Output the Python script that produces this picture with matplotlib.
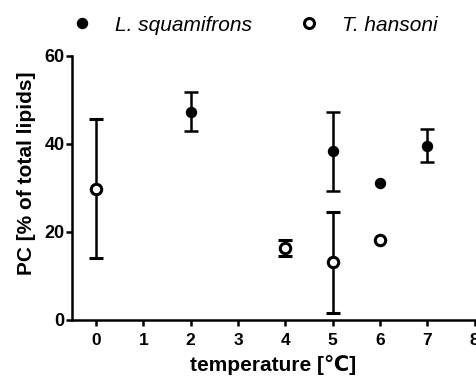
import matplotlib
matplotlib.use("Agg")
import matplotlib.pyplot as plt
from matplotlib.lines import Line2D
import numpy as np

plt.rcParams['font.family'] = ['Liberation Sans', 'DejaVu Sans']

# L. squamifrons (filled)
ls_x = [2, 5, 6, 7]
ls_y = [47.3, 38.3, 31.1, 39.6]
ls_lo = [43.0, 29.2, np.nan, 36.0]
ls_hi = [51.7, 47.3, np.nan, 43.3]

# T. hansoni (open)
th_x = [0, 4, 5, 6]
th_y = [29.8, 16.3, 13.1, 18.2]
th_lo = [14.0, 14.6, 1.6, np.nan]
th_hi = [45.7, 18.1, 24.6, np.nan]

xticks = [0, 1, 2, 3, 4, 5, 6, 7, 8]
yticks = [0, 20, 40, 60]

fig = plt.figure(figsize=(4.76, 3.8), dpi=100)
ax = fig.add_axes([0.152, 0.158, 0.845, 0.695])

def yerr(y, lo, hi):
    y = np.array(y, dtype=float)
    return [y - np.array(lo, dtype=float), np.array(hi, dtype=float) - y]

ax.errorbar(ls_x, ls_y, yerr=yerr(ls_y, ls_lo, ls_hi), fmt='o', color='black',
            ms=7.2, mfc='black', mec='black', elinewidth=1.8, capsize=5, capthick=1.8,
            zorder=3, clip_on=False)
ax.errorbar(th_x, th_y, yerr=yerr(th_y, th_lo, th_hi), fmt='o', color='black',
            ms=7.5, mfc='white', mec='black', mew=2.2, elinewidth=1.8, capsize=5, capthick=1.8,
            zorder=4, clip_on=False)

ax.set_xlim(-0.5, 8)
ax.set_ylim(0, 60)
ax.set_xticks(xticks)
ax.set_yticks(yticks)
ax.spines['top'].set_visible(False)
ax.spines['right'].set_visible(False)
for s in ['left', 'bottom']:
    ax.spines[s].set_linewidth(1.8)
ax.tick_params(axis='both', direction='out', length=4.5, width=1.8)
ax.tick_params(axis='y', labelsize=13, pad=1)
ax.tick_params(axis='x', labelsize=12.5, pad=5)
for lab in ax.get_xticklabels() + ax.get_yticklabels():
    lab.set_fontweight('bold')
ax.set_xlabel('temperature [℃]', fontsize=15, fontweight='bold', labelpad=5)
ax.set_ylabel('PC [% of total lipids]', fontsize=15, fontweight='bold')
ax.yaxis.set_label_coords(-0.09, 0.554)

handles = [Line2D([], [], marker='o', ls='none', color='black', ms=7.2, mfc='black'),
           Line2D([], [], marker='o', ls='none', color='black', ms=7.2, mfc='white', mew=2.2)]
fig.legend(handles, ['L. squamifrons', 'T. hansoni'], loc='center left', bbox_to_anchor=(0.111, 0.934),
           ncol=2, frameon=False, prop={'style': 'italic', 'size': 15}, handletextpad=1.09,
           columnspacing=2.24, handlelength=1.0)

fig.savefig('out.png', dpi=100)
